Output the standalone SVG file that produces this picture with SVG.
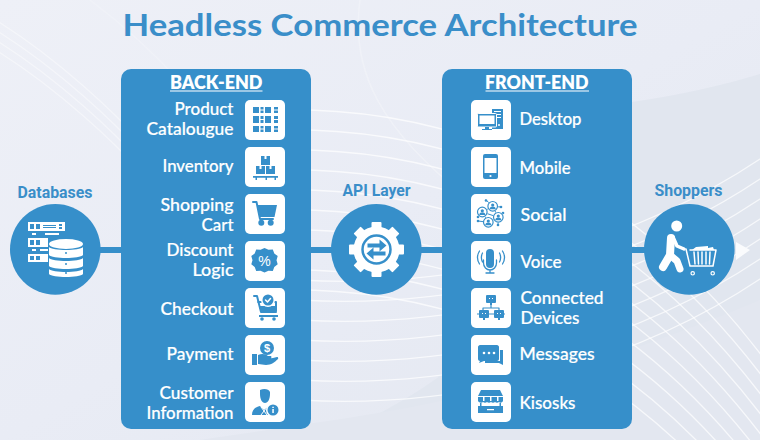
<svg xmlns="http://www.w3.org/2000/svg" xmlns:xlink="http://www.w3.org/1999/xlink" width="760" height="440" viewBox="0 0 760 440">
<style>
.title{font:700 31px Lato,"Liberation Sans",sans-serif;fill:#3a8ec9}
.lbl{font:700 16px Roboto,"Liberation Sans",sans-serif;fill:#3a8ec9}
.hd{font:800 18px Lato,"Liberation Sans",sans-serif;fill:#fff}
.t{font:500 17px Lato,"Liberation Sans",sans-serif;fill:#fff;stroke:#fff;stroke-width:.2}
.panel,.conn,.disc{fill:#368fca}
.tile{fill:#fff}
.b{fill:#368fca}
.w{fill:#fff}
.sb{fill:none;stroke:#368fca;stroke-width:2;stroke-linecap:round;stroke-linejoin:round}
.sw{fill:none;stroke:#fff;stroke-width:2;stroke-linecap:round;stroke-linejoin:round}
.mesh{fill:none;stroke:#fff;stroke-width:1.300;opacity:.7}
.g{font:700 11px "Liberation Sans",sans-serif;fill:#fff;text-anchor:middle}
</style>
<defs>
<linearGradient id="bg" x1="0" y1="0" x2="1" y2="1"><stop offset="0" stop-color="#eef0f7"/><stop offset=".5" stop-color="#e9ecf5"/><stop offset="1" stop-color="#e3e7f0"/></linearGradient>
<path id="a" d="M310 170C470 175 650 240 800 470" class="mesh"/>
<path id="c" d="M300 340C470 350 660 300 800 190" class="mesh"/>
<path id="e" d="M-40 0C40 40 130 120 200 210" class="mesh" style="opacity:.4"/>
</defs>
<g id="background">
<rect width="760" height="440" fill="url(#bg)"/>
<path d="M632 102C680 95 725 85 760 74V440H320C450 390 560 300 632 102Z" fill="#e1e6ef"/>
<path d="M360 0C350 70 380 130 470 200" fill="none" stroke="#f0f2f8" stroke-width="1.500"/>
<path d="M90 0C170 60 240 140 290 250" fill="none" stroke="#f0f2f8" stroke-width="1.200"/>
<path d="M200 440C400 410 520 400 760 300V440Z" fill="#e3e7f0"/>
<use xlink:href="#a" href="#a" y="-60"/><use xlink:href="#a" href="#a" y="-40"/><use xlink:href="#a" href="#a" y="-20"/><use xlink:href="#a" href="#a"/><use xlink:href="#a" href="#a" y="20"/><use xlink:href="#a" href="#a" y="40"/><use xlink:href="#a" href="#a" y="60"/><use xlink:href="#a" href="#a" y="80"/><use xlink:href="#a" href="#a" y="100"/><use xlink:href="#a" href="#a" y="120"/>
<use xlink:href="#c" href="#c" y="-60"/><use xlink:href="#c" href="#c" y="-40"/><use xlink:href="#c" href="#c" y="-20"/><use xlink:href="#c" href="#c"/><use xlink:href="#c" href="#c" y="20"/><use xlink:href="#c" href="#c" y="40"/><use xlink:href="#c" href="#c" y="60"/>
<use xlink:href="#e" href="#e"/><use xlink:href="#e" href="#e" y="10"/><use xlink:href="#e" href="#e" y="20"/><use xlink:href="#e" href="#e" y="30"/>
</g>
<text class="title" x="122.500" y="35.500" textLength="515" lengthAdjust="spacingAndGlyphs">Headless Commerce Architecture</text>

<g id="connectors">
<rect class="conn" x="98" y="247" width="25" height="6"/>
<rect class="conn" x="309" y="247" width="25" height="6"/>
<rect class="conn" x="419" y="247" width="25" height="6"/>
<rect class="conn" x="630" y="247" width="16" height="6"/>
<polygon points="736,242 750,250 736,260" fill="#fafbfd"/>
</g>

<g id="databases">
<text class="lbl" x="17.500" y="198" textLength="75" lengthAdjust="spacingAndGlyphs">Databases</text>
<circle class="disc" cx="55.300" cy="249.400" r="45.300"/>
<path class="w" fill-rule="evenodd" d="M28 222h37v9H28zM30 224v5h4v-5zM36 224v5h4v-5zM43 225v1h13v-1zM43 227v1h13v-1zM59 224v2h3v-2zM59 227v2h3v-2z"/>
<path class="w" d="M32 233h4v2h-4zM45 233h14v2H45z"/>
<path class="w" fill-rule="evenodd" d="M28 238h20v9H28zM30 240v5h4v-5zM36 240v5h4v-5z"/>
<path class="w" d="M32 249h4v2h-4zM40 249h8v2h-8z"/>
<path class="w" fill-rule="evenodd" d="M28 254h20v8H28zM30 256v4h4v-4zM36 256v4h4v-4z"/>
<ellipse class="w" cx="66" cy="244" rx="17" ry="5"/>
<path class="w" d="M49 247c3 4 31 4 34 0v8c-3 4-31 4-34 0zM49 258c3 4 31 4 34 0v8c-3 4-31 4-34 0zM49 269c3 4 31 4 34 0v5c-3 4-31 4-34 0z"/>
<circle class="b" cx="66" cy="253" r="1"/><circle class="b" cx="66" cy="264" r="1"/><circle class="b" cx="66" cy="273" r="1"/>
</g>

<g id="back-end">
<rect class="panel" x="121" y="69" width="190" height="360" rx="10"/>
<text class="hd" x="170" y="88.500" textLength="92.500" lengthAdjust="spacingAndGlyphs">BACK-END</text>
<rect class="w" x="170" y="90.500" width="92.500" height="1"/>
</g>

<g id="product-catalougue">
<text class="t" x="174.500" y="114.500" textLength="59" lengthAdjust="spacingAndGlyphs">Product</text>
<text class="t" x="146.500" y="134.500" textLength="87" lengthAdjust="spacingAndGlyphs">Catalougue</text>
<g transform="translate(245 100)"><rect class="tile" width="40" height="40" rx="5"/>
<path class="b" d="M8 7h6v6H8zM15.500 7h3v2.500h-3zM15.500 10.500h3V13h-3zM20 7h6v6h-6zM29 7h4v2.500h-4zM29 10.500h4V13h-4zM8 16h6v7H8zM15.500 16h3v3h-3zM15.500 20h3v3h-3zM20 16h6v7h-6zM29 16h4v3h-4zM29 20h4v3h-4zM8 26h6v6H8zM15.500 26h3v2.500h-3zM15.500 29.500h3V32h-3zM20 26h6v6h-6zM29 26h4v2.500h-4zM29 29.500h4V32h-4z"/></g>
</g>

<g id="inventory">
<text class="t" x="162.500" y="171.500" textLength="71" lengthAdjust="spacingAndGlyphs">Inventory</text>
<g transform="translate(245 147)"><rect class="tile" width="40" height="40" rx="5"/>
<path class="b" d="M16 9h9v9h-9zM11 19h9v8h-9zM21 19h9v8h-9zM8 29h25v1.800h-2v2.200h-1.500v-2.200H22v2.200h-1.500v-2.200H12v2.200h-1.500v-2.200H8z"/>
<path class="w" d="M19.500 9h2v3h-2zM14.500 19h2v3h-2zM24.500 19h2v3h-2z"/></g>
</g>

<g id="shopping-cart">
<text class="t" x="160.500" y="210.500" textLength="73" lengthAdjust="spacingAndGlyphs">Shopping</text>
<text class="t" x="201.500" y="230.500" textLength="32" lengthAdjust="spacingAndGlyphs">Cart</text>
<g transform="translate(245 194)"><rect class="tile" width="40" height="40" rx="5"/>
<path class="sb" d="M8 8h3.500L15 25h13"/>
<path class="b" d="M12.500 11H32l-2.500 12H15z"/>
<circle class="b" cx="16.300" cy="28.800" r="3"/><circle class="b" cx="25.700" cy="28.800" r="3"/></g>
</g>

<g id="discount-logic">
<text class="t" x="166.500" y="255.500" textLength="67" lengthAdjust="spacingAndGlyphs">Discount</text>
<text class="t" x="192.500" y="275.500" textLength="41" lengthAdjust="spacingAndGlyphs">Logic</text>
<g transform="translate(245 241)"><rect class="tile" width="40" height="40" rx="5"/>
<path class="b" d="M19.500 7l4 1.700 4.300-.3 1.500 4 3.400 2.700-1.200 4.100 1.200 4.100-3.400 2.700-1.500 4-4.300-.3-4 1.700-4-1.700-4.300.3-1.500-4-3.400-2.700 1.200-4.100-1.200-4.100 3.400-2.700 1.500-4 4.300.3z"/>
<text x="19.500" y="25" style="font:400 14px 'Liberation Sans',sans-serif;fill:#fff;text-anchor:middle">%</text></g>
</g>

<g id="checkout">
<text class="t" x="160.500" y="314.500" textLength="73" lengthAdjust="spacingAndGlyphs">Checkout</text>
<g transform="translate(245 288)"><rect class="tile" width="40" height="40" rx="5"/>
<path class="sb" d="M9 8h3l4 16h15M13 14h18v9"/>
<path class="b" d="M14 18h17v6H16zM14 27h19v2H14z"/>
<circle class="b" cx="17" cy="31" r="1.800"/><circle class="b" cx="29" cy="31" r="1.800"/>
<circle class="w" cx="23" cy="12" r="7"/><circle class="b" cx="23" cy="12" r="5.500"/>
<path class="sw" style="stroke-width:1.500" d="M20.500 12l2 2 3-3.500"/></g>
</g>

<g id="payment">
<text class="t" x="166.500" y="359.500" textLength="67" lengthAdjust="spacingAndGlyphs">Payment</text>
<g transform="translate(245 335)"><rect class="tile" width="40" height="40" rx="5"/>
<circle class="b" cx="22" cy="13" r="7"/><text class="g" x="22" y="17">$</text>
<path class="b" d="M7 19h5v11H7zM13 20c4-2 8-1 10 1h3c1 1 0 3-1 3h-5l8-1 4-1c1 0 1.500 1 1 2-3 3-7 6-12 6-3 0-5-1-8-1z"/></g>
</g>

<g id="customer-information">
<text class="t" x="159.500" y="398.500" textLength="74" lengthAdjust="spacingAndGlyphs">Customer</text>
<text class="t" x="146.500" y="418.500" textLength="87" lengthAdjust="spacingAndGlyphs">Information</text>
<g transform="translate(245 382)"><rect class="tile" width="40" height="40" rx="5"/>
<path class="b" d="M15 8c4-2 9-1 10 2v2c0 5-2 9-5 9s-5-4-5-9zM7 33c0-5 3-8 8-9l4 4 4-4c3 1 5 2 6 3v6z"/>
<path class="sw" style="stroke-width:1" d="M16 25l6 8M22 25l-6 8"/>
<circle class="w" cx="28" cy="28" r="7"/><circle class="b" cx="28" cy="28" r="5.500"/>
<path class="w" d="M27.300 27h1.500v4h-1.500zM27.300 24.700h1.500v1.400h-1.500z"/></g>
</g>

<g id="api-layer">
<text class="lbl" x="342.500" y="195.500" textLength="68" lengthAdjust="spacingAndGlyphs">API Layer</text>
<circle class="disc" cx="376.300" cy="249.400" r="45.300"/>
<g transform="translate(376.500 249.500)">
<circle class="w" r="23"/>
<g class="w"><rect x="-5" y="-27.500" width="10" height="55" rx="1"/><rect x="-5" y="-27.500" width="10" height="55" rx="1" transform="rotate(45)"/><rect x="-5" y="-27.500" width="10" height="55" rx="1" transform="rotate(90)"/><rect x="-5" y="-27.500" width="10" height="55" rx="1" transform="rotate(135)"/></g>
<circle r="14" fill="none" stroke="#368fca" stroke-width="2.500"/>
<path class="b" d="M-9-6H3v-4L10-4 3 2V-2H-9zM9 6H-3v4L-10 4-3-2V2H9z"/>
</g>
</g>

<g id="front-end">
<rect class="panel" x="442" y="69" width="190" height="360" rx="10"/>
<text class="hd" x="485" y="88.500" textLength="103.500" lengthAdjust="spacingAndGlyphs">FRONT-END</text>
<rect class="w" x="485.500" y="90.500" width="103.500" height="1"/>
</g>

<g id="desktop">
<text class="t" x="519.500" y="124.500" textLength="62" lengthAdjust="spacingAndGlyphs">Desktop</text>
<g transform="translate(471 100)"><rect class="tile" width="40" height="40" rx="5"/>
<path class="b" d="M21 9h11v20H21z"/>
<path class="w" d="M23 11h7v1h-7zM23 14h7v1h-7zM23 17h7v1h-7z"/>
<rect class="b" x="6.500" y="13.500" width="19" height="13.500" rx="1" stroke="#fff"/>
<rect class="w" x="8.500" y="15.500" width="15" height="8.500"/>
<path class="b" d="M14 27h4v2h3v1h-10v-1h3z"/><circle class="w" cx="28" cy="25" r="1"/></g>
</g>

<g id="mobile">
<text class="t" x="519.500" y="173.500" textLength="51" lengthAdjust="spacingAndGlyphs">Mobile</text>
<g transform="translate(471 147)"><rect class="tile" width="40" height="40" rx="5"/>
<rect class="b" x="12" y="7" width="15" height="25" rx="2"/><rect class="w" x="13.500" y="11" width="12" height="15"/><circle class="w" cx="19.500" cy="29" r="1.100"/></g>
</g>

<g id="social">
<text class="t" x="520.500" y="220.500" textLength="46" lengthAdjust="spacingAndGlyphs">Social</text>
<g transform="translate(471 194)"><rect class="tile" width="40" height="40" rx="5"/>
<path class="sb" style="stroke-width:1" d="M21.700 12.300L11.300 18 27.300 23.300 17.300 28.300 11.300 18M21.700 12.300L27.300 23.300M21.700 12.300L30 13M21.700 12.300L15 6M11.300 18L7 23M27.300 23.300L32 19M17.300 28.300L7 27M27.300 23.300L27 31"/>
<g class="b"><circle cx="30" cy="13" r="1.300"/><circle cx="15" cy="6.500" r="1.300"/><circle cx="7" cy="23" r="1.300"/><circle cx="32" cy="19" r="1.300"/><circle cx="7" cy="27" r="1.300"/><circle cx="27" cy="31" r="1.300"/></g>
<g><g id="sp" transform="translate(21.700 12.300)"><circle class="w" r="5.500"/><circle r="4.800" fill="none" stroke="#368fca" stroke-width="1.200"/><circle class="b" cy="-1.200" r="1.600"/><path class="b" d="M-3 3c0-2 1-2.500 3-2.500S3 1 3 3z"/></g>
<use xlink:href="#sp" href="#sp" x="-10.400" y="5.700"/><use xlink:href="#sp" href="#sp" x="5.600" y="11"/><use xlink:href="#sp" href="#sp" x="-4.400" y="16"/></g></g>
</g>

<g id="voice">
<text class="t" x="520.500" y="267.500" textLength="41" lengthAdjust="spacingAndGlyphs">Voice</text>
<g transform="translate(471 241)"><rect class="tile" width="40" height="40" rx="5"/>
<rect class="b" x="15" y="8" width="8" height="19" rx="4"/>
<path class="sb" style="stroke-width:1.300" d="M12.500 19v3c0 4 3 7 6.500 7s6.500-3 6.500-7v-3M19 29v3M15 32h8M11.500 12c-1.500 3-1.500 6 0 9M28.500 12c1.500 3 1.500 6 0 9M8.500 10c-2.500 4-2.500 9 0 13M31.500 10c2.500 4 2.500 9 0 13"/></g>
</g>

<g id="connected-devices">
<text class="t" x="520.500" y="303.500" textLength="83" lengthAdjust="spacingAndGlyphs">Connected</text>
<text class="t" x="520.500" y="323.500" textLength="59" lengthAdjust="spacingAndGlyphs">Devices</text>
<g transform="translate(471 288)"><rect class="tile" width="40" height="40" rx="5"/>
<path class="sb" style="stroke-width:1.200" d="M20 15v5M12 23v-3h16v3"/>
<g class="b"><rect x="15" y="7" width="10" height="8" rx="1"/><rect x="8" y="22" width="10" height="8" rx="1"/><rect x="23" y="22" width="10" height="8" rx="1"/><path d="M12 30h2v2h-2zM27 30h2v2h-2zM19 15h2v2h-2zM6 25.500h2v1H6zM18 25.500h5v1h-5zM33 25.500h1v1h-1z"/></g>
<path class="w" d="M18 10h1v1h-1zM21 10h1v1h-1zM11 25h1v1h-1zM14 25h1v1h-1zM26 25h1v1h-1zM29 25h1v1h-1z"/></g>
</g>

<g id="messages">
<text class="t" x="519.500" y="359.500" textLength="75" lengthAdjust="spacingAndGlyphs">Messages</text>
<g transform="translate(471 335)"><rect class="tile" width="40" height="40" rx="5"/>
<path class="b" d="M32 15v15l-4-2H14v-2h15V15z"/>
<path class="b" d="M9 10h17c1 0 2 1 2 2v12c0 1-1 2-2 2H13l-5 2 1-2c-1 0-2-1-2-2V12c0-1 1-2 2-2z"/>
<circle class="w" cx="13" cy="18" r="1.300"/><circle class="w" cx="18" cy="18" r="1.300"/><circle class="w" cx="23" cy="18" r="1.300"/></g>
</g>

<g id="kisosks">
<text class="t" x="519.500" y="408.500" textLength="56" lengthAdjust="spacingAndGlyphs">Kisosks</text>
<g transform="translate(471 382)"><rect class="tile" width="40" height="40" rx="5"/>
<path class="b" d="M10 8h19l3 6H7zM7 15h25v4c-1 2-3 2-4 1-1 1-3 1-4 0-1 1-3 1-4 0-1 1-3 1-4 0-1 1-3 1-4 0-1 1-4 1-5-1zM9 21h1.500v3H9zM28.500 21H30v3h-1.500zM7 24h25v7H7z"/>
<path class="w" d="M12 15h1.500v4H12zM19 15h1.500v4H19zM26 15h1.500v4H26zM16 27h7v1.300h-7z"/></g>
</g>

<g id="shoppers">
<text class="lbl" x="654.500" y="195.500" textLength="68" lengthAdjust="spacingAndGlyphs">Shoppers</text>
<circle class="disc" cx="689.300" cy="249.400" r="45.300"/>
<circle class="w" cx="676.700" cy="226" r="5.500"/>
<path class="sw" style="stroke-width:8" d="M671 238l-1 17-7 12"/>
<path class="sw" style="stroke-width:7" d="M670 255l7 6 3 8"/>
<path class="sw" style="stroke-width:3.500" d="M673 237l4 9 7 3"/>
<path class="sw" style="stroke-width:1.500" d="M686 249l4 17h23l3-16H690M694 252l1 12M698 252l.500 12M702 252v12M706 252v12M710 252l-.500 12"/>
<path class="w" d="M692 250l4-3 12-1v2l5-1 1 3z"/>
<circle cx="692.700" cy="273.300" r="1.700" fill="none" stroke="#fff" stroke-width="1.200"/><circle cx="712.700" cy="273.300" r="1.700" fill="none" stroke="#fff" stroke-width="1.200"/>
</g>
</svg>
